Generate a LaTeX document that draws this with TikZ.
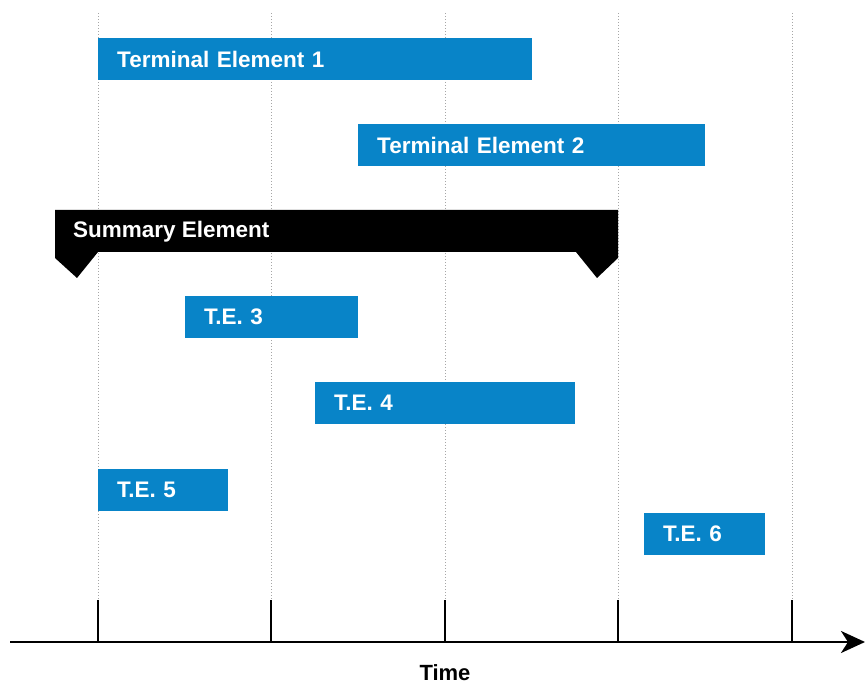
\documentclass[tikz,border=0pt]{standalone}
\usepackage{fontspec}
\setmainfont{Liberation Sans}
\usetikzlibrary{arrows.meta}
\definecolor{teblue}{RGB}{8,132,200}
\tikzset{
  labelfont/.style={font=\bfseries\fontsize{22.5}{24}\selectfont},
  bar/.style={fill=teblue, text=white, anchor=north west, minimum height=42pt,
    inner xsep=19pt, inner ysep=0pt, align=left, labelfont},
  grid line/.style={draw=black!35, dotted, line width=1pt},
  tick/.style={draw=black, line width=2pt},
  axis/.style={draw=black, line width=2.5pt, -{Stealth[length=24pt,width=22pt,inset=7pt]}}
}
\begin{document}
\begin{tikzpicture}[x=1pt,y=-1pt]
\useasboundingbox (0,0) rectangle (865,684);
% time grid and ticks
\foreach \gx [count=\i] in {98,271,445,618,792} {
  \coordinate (g\i top) at (\gx,13);
  \coordinate (g\i tk) at (\gx,600);
  \coordinate (g\i ax) at (\gx,642);
  \draw[grid line] (g\i top) -- (g\i tk);
  \draw[tick] (g\i tk) -- (g\i ax);
}
% time axis
\coordinate (axL) at (10,642);
\coordinate (axR) at (865,642);
\draw[axis] (axL) -- (axR);
\node[inner sep=0pt, font=\bfseries\fontsize{22}{24}\selectfont] (time) at (445,673) {Time};
% terminal elements
\node[bar, text width=396pt] (te1) at (98,38) {Terminal Element 1};
\node[bar, text width=309pt] (te2) at (358,124) {Terminal Element 2};
\node[bar, text width=135pt] (te3) at (185,296) {T.E. 3};
\node[bar, text width=222pt] (te4) at (315,382) {T.E. 4};
\node[bar, text width=92pt] (te5) at (98,469) {T.E. 5};
\node[bar, text width=83pt] (te6) at (644,513) {T.E. 6};
% summary element with its two end tabs
\fill[black] (55,210) -- (618,210) -- (618,258) -- (597,278) -- (576,252)
  -- (98,252) -- (77,278) -- (55,258) -- cycle;
\node[text=white, anchor=west, inner xsep=0pt, labelfont] (sum) at (73,232) {Summary Element};
\end{tikzpicture}
\end{document}
